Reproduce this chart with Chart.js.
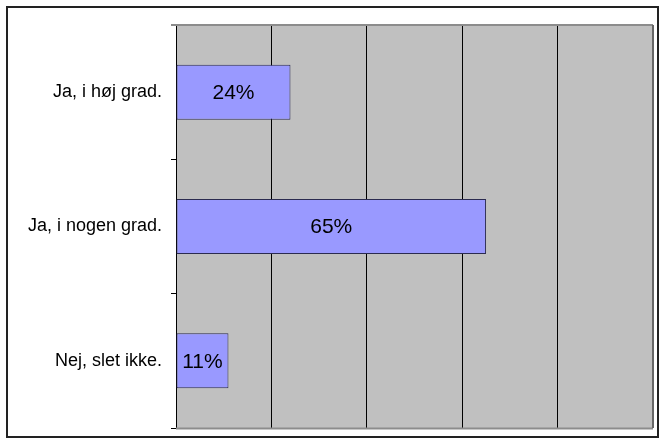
<!DOCTYPE html>
<html>
<head>
<meta charset="utf-8">
<script src="https://cdn.jsdelivr.net/npm/chart.js@4.4.0/dist/chart.umd.min.js"></script>
<style>
  html, body { margin: 0; padding: 0; background: #fff; }
  #wrap { width: 660px; height: 440px; position: relative; }
</style>
</head>
<body>
<div id="wrap"><canvas id="myChart" width="660" height="440"></canvas></div>
<script>
var categories = ["Ja, i høj grad.", "Ja, i nogen grad.", "Nej, slet ikke."];
var percentValues = [24, 65, 11];
var xTicks = [0, 20, 40, 60, 80, 100];

// gray plot background, plot frame and the outer box
var frame = {
    id: "frame",
    beforeDraw: function(chart){
        var c = chart.ctx, a = chart.chartArea;
        c.save();
        c.fillStyle = "#fff";
        c.fillRect(0, 0, chart.width, chart.height);
        c.fillStyle = "#c0c0c0";
        c.fillRect(a.left, a.top, a.right - a.left, a.bottom - a.top);
        c.restore();
    },
    afterDraw: function(chart){
        var c = chart.ctx, a = chart.chartArea;
        c.save();
        c.strokeStyle = "#8c8c8c";
        c.lineWidth = 2;
        c.beginPath();
        c.moveTo(a.left - 5, a.top);
        c.lineTo(a.right, a.top);
        c.moveTo(a.left, a.bottom + 0.5);
        c.lineTo(a.right, a.bottom + 0.5);
        c.stroke();
        c.strokeStyle = "#666";
        c.beginPath();
        c.moveTo(a.right, a.top);
        c.lineTo(a.right, a.bottom);
        c.stroke();
        c.strokeStyle = "#222";
        c.lineWidth = 2;
        c.strokeRect(7, 7, 651, 430);
        c.restore();
    }
};

// value in the middle of each bar
var barText = {
    id: "barText",
    afterDatasetsDraw: function(chart){
        var c = chart.ctx;
        var meta = chart.getDatasetMeta(0);
        c.save();
        c.font = "21px 'Liberation Sans', Arial, sans-serif";
        c.fillStyle = "#000";
        c.textAlign = "center";
        c.textBaseline = "middle";
        meta.data.forEach(function(bar, i){
            c.fillText(percentValues[i] + "%", (bar.x + bar.base) / 2, bar.y + 1);
        });
        c.restore();
    }
};

new Chart("myChart", {
    type: "bar",
    data: {
        labels: categories,
        datasets: [{
            data: percentValues,
            backgroundColor: "#9999ff",
            borderColor: "#2b2b50",
            borderWidth: 1,
            borderSkipped: false,
            barPercentage: 0.41,
            categoryPercentage: 1
        }]
    },
    options: {
        indexAxis: "y",
        responsive: false,
        animation: false,
        layout: { padding: { left: 0, top: 25, right: 7, bottom: 12 } },
        plugins: { legend: { display: false }, tooltip: { enabled: false } },
        scales: {
            x: {
                min: xTicks[0],
                max: xTicks[xTicks.length - 1],
                afterBuildTicks: function(s){ s.ticks = xTicks.map(function(v){ return { value: v }; }); },
                afterFit: function(s){ s.height = 0; s.paddingLeft = 0; s.paddingRight = 0; },
                ticks: { display: false },
                border: { display: false },
                grid: { color: "#000", lineWidth: 1, drawTicks: false }
            },
            y: {
                afterFit: function(s){ s.width = 176; s.paddingTop = 0; s.paddingBottom = 0; },
                border: { display: true, color: "#000", width: 1 },
                grid: { drawOnChartArea: false, drawTicks: true, tickLength: 5, color: "#000" },
                ticks: {
                    color: "#000",
                    padding: 9,
                    font: { family: "'Liberation Sans', Arial, sans-serif", size: 18 }
                }
            }
        }
    },
    plugins: [frame, barText]
});
</script>
</body>
</html>
